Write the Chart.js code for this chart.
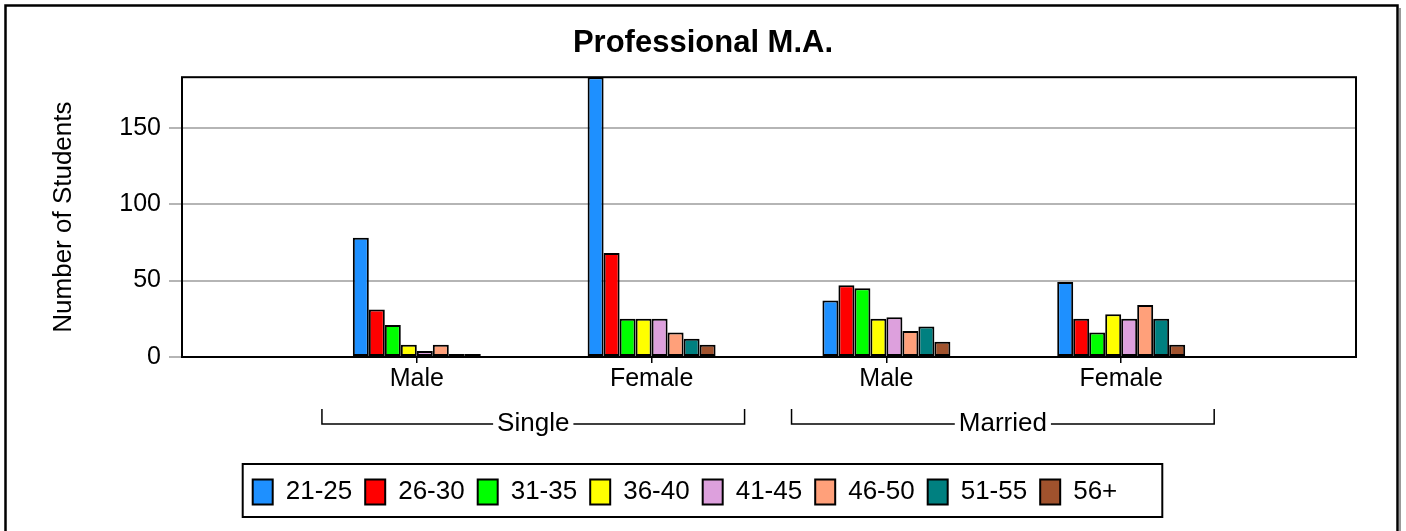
<!DOCTYPE html>
<html>
<head>
<meta charset="utf-8">
<script src="https://cdn.jsdelivr.net/npm/chart.js@4.4.1/dist/chart.umd.min.js"></script>
<style>
  html, body { margin: 0; padding: 0; background: #fff; }
  #wrap { width: 1406px; height: 531px; }
</style>
</head>
<body>
<div id="wrap"><canvas id="chart" width="1406" height="531"></canvas></div>
<script>
// data
const categories = ["Male", "Female", "Male", "Female"];
const groups = ["Single", "Married"];
const ageBands = ["21-25", "26-30", "31-35", "36-40", "41-45", "46-50", "51-55", "56+"];

const band21_25 = [78, 183, 37, 49];
const band26_30 = [31, 68, 47, 25];
const band31_35 = [21, 25, 45, 16];
const band36_40 = [8, 25, 25, 28];
const band41_45 = [4, 25, 26, 25];
const band46_50 = [8, 16, 17, 34];
const band51_55 = [2, 12, 20, 25];
const band56plus = [2, 8, 10, 8];

const yTicks = [0, 50, 100, 150];
const yMax = 183;

const seriesValues = [band21_25, band26_30, band31_35, band36_40, band41_45, band46_50, band51_55, band56plus];
const seriesColors = ["#1e90ff", "#ff0000", "#00ff00", "#ffff00", "#dda0dd", "#ffa07a", "#008080", "#a0522d"];

const FONT = "'Liberation Sans', Arial, sans-serif";

// empty slots at both ends so the four groups sit where the original puts them
const labels = ["", ...categories, ""];

const datasets = ageBands.map((band, i) => ({
  label: band,
  data: [null, ...seriesValues[i], null],
  backgroundColor: seriesColors[i],
  borderColor: "#000",
  borderWidth: 2,
  borderSkipped: false,
}));

// =========================
// Plugins
// =========================

const decorPlugin = {
  id: "decor",
  afterLayout(chart) {
    // the legend in the original sits a bit left of centre
    const shift = 18;
    chart.legend.left -= shift;
    chart.legend.right -= shift;
  },
  beforeDraw(chart) {
    const ctx = chart.ctx;
    ctx.save();
    ctx.fillStyle = "#fff";
    ctx.fillRect(0, 0, chart.width, chart.height);
    // outer frame with its little shadow
    ctx.strokeStyle = "#999";
    ctx.lineWidth = 2;
    ctx.beginPath();
    ctx.moveTo(1400, 8);
    ctx.lineTo(1400, chart.height);
    ctx.stroke();
    ctx.strokeStyle = "#000";
    ctx.lineWidth = 2.5;
    ctx.strokeRect(5.5, 5.5, 1392, 700);
    ctx.restore();
  },
  afterDraw(chart) {
    const ctx = chart.ctx;
    const area = chart.chartArea;
    const x = chart.scales.x;
    ctx.save();

    // plot frame
    ctx.strokeStyle = "#000";
    ctx.lineWidth = 2;
    ctx.strokeRect(area.left, area.top, area.right - area.left, area.bottom - area.top);

    // group brackets under the categories
    const step = x.getPixelForValue(1) - x.getPixelForValue(0);
    ctx.font = "26px " + FONT;
    ctx.textAlign = "center";
    ctx.textBaseline = "middle";
    ctx.fillStyle = "#000";
    ctx.lineWidth = 1.5;
    groups.forEach((g, gi) => {
      const left = x.getPixelForValue(1 + gi * 2) - 0.404 * step;
      const right = x.getPixelForValue(2 + gi * 2) + 0.396 * step;
      const yTop = area.bottom + 52;
      const yLine = area.bottom + 67;
      const mid = (left + right) / 2;
      const half = ctx.measureText(g).width / 2 + 4;
      ctx.beginPath();
      ctx.moveTo(left, yTop);
      ctx.lineTo(left, yLine);
      ctx.lineTo(mid - half, yLine);
      ctx.moveTo(mid + half, yLine);
      ctx.lineTo(right, yLine);
      ctx.lineTo(right, yTop);
      ctx.stroke();
      ctx.fillText(g, mid, yLine);
    });

    // box round the legend
    const boxes = chart.legend.legendHitBoxes;
    if (boxes && boxes.length) {
      const first = boxes[0];
      const last = boxes[boxes.length - 1];
      const bx = first.left - 10;
      const bw = last.left + last.width + 45 - bx;
      const by = first.top - 15;
      const bh = first.height + 27;
      ctx.lineWidth = 2;
      ctx.strokeRect(bx, by, bw, bh);
    }
    ctx.restore();
  },
};

// =========================
// Chart
// =========================

new Chart(document.getElementById("chart"), {
  type: "bar",
  data: { labels, datasets },
  options: {
    responsive: false,
    animation: false,
    layout: { padding: { top: 0, left: 0, right: 0, bottom: 16 } },
    datasets: {
      bar: { categoryPercentage: 0.545, barPercentage: 1.0 },
    },
    scales: {
      x: {
        offset: false,
        grid: {
          display: true,
          offset: false,
          drawOnChartArea: false,
          tickLength: 6,
          lineWidth: 1.5,
          tickColor: (c) => (c.index === 0 || c.index === labels.length - 1 ? "rgba(0,0,0,0)" : "#000"),
        },
        border: { display: false },
        ticks: {
          padding: 1,
          color: "#000",
          font: { family: FONT, size: 25 },
          maxRotation: 0,
          autoSkip: false,
        },
        afterFit(scale) {
          scale.height = 109;
        },
      },
      y: {
        min: 0,
        max: yMax,
        grid: { color: "#b5b5b5", lineWidth: 2, tickLength: 13, tickColor: "#b5b5b5" },
        border: { display: false },
        ticks: {
          padding: 8,
          color: "#000",
          font: { family: FONT, size: 25 },
        },
        afterBuildTicks(scale) {
          scale.ticks = yTicks.map((v) => ({ value: v }));
        },
        title: {
          display: true,
          text: "Number of Students",
          color: "#000",
          font: { family: FONT, size: 26 },
          padding: { top: 48, bottom: 0 },
        },
        afterFit(scale) {
          scale.width = 182;
        },
      },
      yRight: {
        position: "right",
        display: true,
        grid: { display: false },
        border: { display: false },
        ticks: { display: false },
        afterFit(scale) {
          scale.width = 50;
        },
      },
    },
    plugins: {
      title: {
        display: true,
        text: "Professional M.A.",
        color: "#000",
        font: { family: FONT, size: 31, weight: "bold" },
        padding: { top: 25, bottom: 15 },
      },
      legend: {
        position: "bottom",
        labels: {
          color: "#000",
          boxWidth: 20,
          boxHeight: 25,
          padding: 13,
          font: { family: FONT, size: 26 },
        },
      },
      tooltip: { enabled: false },
    },
  },
  plugins: [decorPlugin],
});
</script>
</body>
</html>
